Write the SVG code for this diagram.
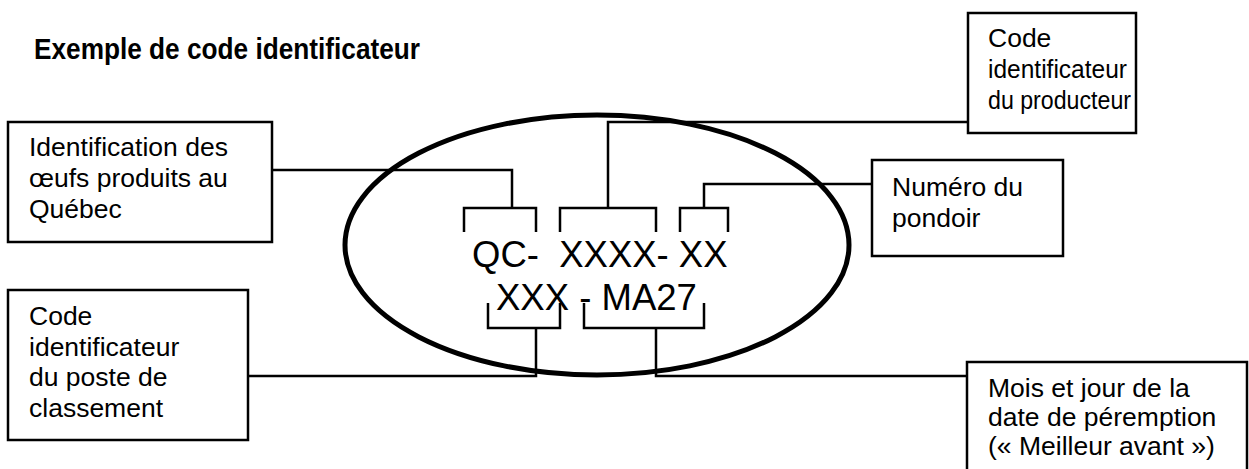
<svg xmlns="http://www.w3.org/2000/svg" width="1249" height="469" viewBox="0 0 1249 469">
<style>
.box{fill:#fff;stroke:#000;stroke-width:2.5}
.lbl{font-family:"Liberation Sans",Arial,sans-serif;font-size:26.5px;fill:#000}
.code{font-family:"Liberation Sans",Arial,sans-serif;font-size:36.5px;fill:#000}
.title{font-family:"Liberation Sans",Arial,sans-serif;font-size:29px;font-weight:bold;fill:#000}
.ln{fill:none;stroke:#000;stroke-width:2.5}
</style>
<rect width="1249" height="469" fill="#fff"/>
<text class="title" x="34" y="59" textLength="386" lengthAdjust="spacingAndGlyphs">Exemple de code identificateur</text>
<g id="ellipse">
<ellipse cx="597" cy="245" rx="252" ry="130" fill="none" stroke="#000" stroke-width="5"/>
<text class="code" x="472" y="267" xml:space="preserve">QC-  XXXX- XX</text>
<text class="code" x="496" y="310" xml:space="preserve">XXX - MA27</text>
</g>
<g id="connectors">
<path class="ln" d="M272,170 H512 V208 M464,232 V208 H536 V232"/>
<path class="ln" d="M968,122 H608 V208 M560,232 V208 H656 V232"/>
<path class="ln" d="M872,184 H704 V208 M680,232 V208 H728 V232"/>
<path class="ln" d="M248,376 H536 V328 M488,303 V328 H560 V303"/>
<path class="ln" d="M967,376 H656 V328 M584,303 V328 H704 V303"/>
</g>
<g id="n-quebec">
<rect class="box" x="8" y="122" width="264" height="120"/>
<text class="lbl" x="29" y="156">Identification des</text>
<text class="lbl" x="29" y="187">œufs produits au</text>
<text class="lbl" x="29" y="218">Québec</text>
</g>
<g id="n-producteur">
<rect class="box" x="968" y="13" width="168" height="120"/>
<text class="lbl" x="988" y="47">Code</text>
<text class="lbl" x="988" y="78" textLength="139" lengthAdjust="spacingAndGlyphs">identificateur</text>
<text class="lbl" x="988" y="109" textLength="143" lengthAdjust="spacingAndGlyphs">du producteur</text>
</g>
<g id="n-pondoir">
<rect class="box" x="872" y="160" width="191" height="96"/>
<text class="lbl" x="892" y="196">Numéro du</text>
<text class="lbl" x="892" y="227">pondoir</text>
</g>
<g id="n-poste">
<rect class="box" x="8" y="290" width="240" height="150"/>
<text class="lbl" x="29" y="325">Code</text>
<text class="lbl" x="29" y="356">identificateur</text>
<text class="lbl" x="29" y="386">du poste de</text>
<text class="lbl" x="29" y="417">classement</text>
</g>
<g id="n-date">
<path class="box" d="M967,475 V362 H1247 V475"/>
<text class="lbl" x="988" y="397">Mois et jour de la</text>
<text class="lbl" x="988" y="426">date de péremption</text>
<text class="lbl" x="988" y="455">(« Meilleur avant »)</text>
</g>
</svg>
